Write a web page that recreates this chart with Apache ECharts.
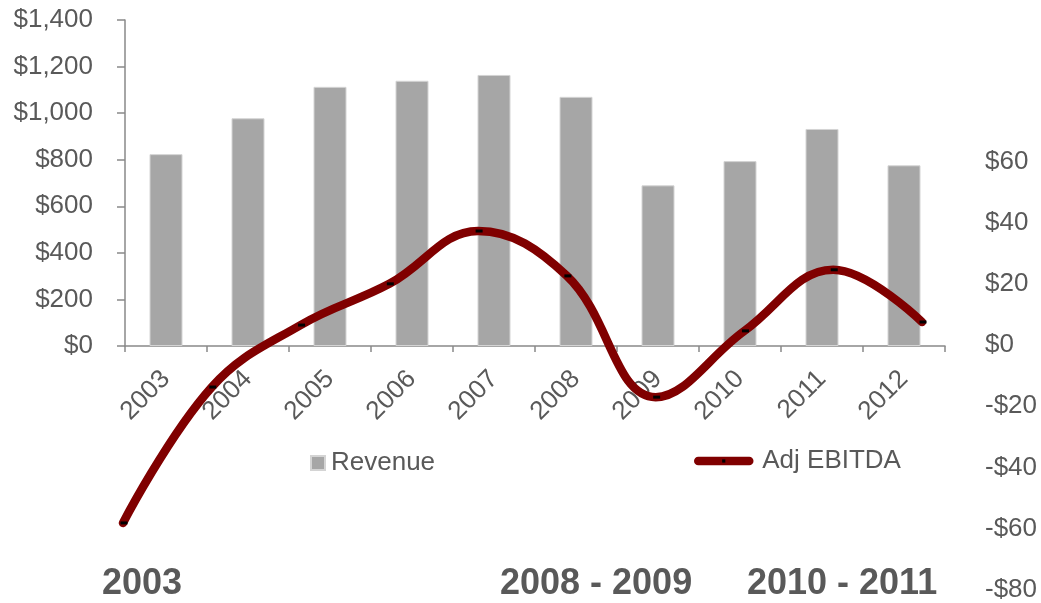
<!DOCTYPE html>
<html>
<head>
<meta charset="utf-8">
<script src="https://cdn.jsdelivr.net/npm/echarts@6/dist/echarts.min.js"></script>
<style>
  html, body { margin: 0; padding: 0; background: #ffffff; }
  #chart { width: 1041px; height: 603px; }
</style>
</head>
<body>
<div id="chart"></div>
<script>
// Fiscal years on the horizontal axis
const years = ['2003', '2004', '2005', '2006', '2007', '2008', '2009', '2010', '2011', '2012'];
// Revenue ($M), left axis
const revenue = [824, 978, 1113, 1139, 1164, 1070, 690, 794, 932, 776];
// Adjusted EBITDA ($M), right axis
const adjEbitda = [-58.2, -13.7, 6.6, 20.1, 37.4, 22.7, -17.0, 4.7, 24.7, 7.6];
// Period headings under the chart
const periodLabels = ['2003', '2008 - 2009', '2010 - 2011'];
const periodLeft = [102, 500, 747];

const FONT = '"Liberation Sans", Arial, sans-serif';
const TEXT = '#595959';
const AXIS = '#898989';
const LABEL_SIZE = 26;

function money(v) {
  const s = Math.abs(v).toLocaleString('en-US');
  return (v < 0 ? '-$' : '$') + s;
}

const chart = echarts.init(document.getElementById('chart'), null, { renderer: 'canvas' });

chart.setOption({
  animation: false,
  backgroundColor: '#ffffff',
  textStyle: { fontFamily: FONT },
  grid: [
    { left: 125, right: 96, top: 20, bottom: 257, containLabel: false },
    { left: 123, right: 119, top: 162, bottom: 13.5, containLabel: false }
  ],
  legend: [
    {
      data: ['Revenue'],
      left: 310, top: 450,
      padding: 0,
      itemWidth: 14, itemHeight: 14,
      icon: 'rect',
      selectedMode: false,
      textStyle: { color: TEXT, fontSize: LABEL_SIZE, fontFamily: FONT, padding: [0, 0, 0, 1] }
    },
    {
      data: ['Adj EBITDA'],
      left: 694, top: 448,
      padding: 0,
      itemWidth: 51, itemHeight: 4,
      selectedMode: false,
      lineStyle: { width: 8.5, cap: 'round', color: '#800000' },
      textStyle: { color: TEXT, fontSize: LABEL_SIZE, fontFamily: FONT, padding: [0, 0, 0, 8] }
    }
  ],
  xAxis: [
    {
      type: 'category',
      gridIndex: 0,
      data: years,
      boundaryGap: true,
      axisLine: { lineStyle: { color: AXIS, width: 1.5 } },
      axisTick: { show: true, length: 6, lineStyle: { color: AXIS, width: 1.5 } },
      axisLabel: {
        rotate: 45, margin: 29,
        color: TEXT, fontSize: LABEL_SIZE, fontFamily: FONT
      }
    },
    {
      type: 'category',
      gridIndex: 1,
      data: years,
      boundaryGap: false,
      show: false
    }
  ],
  yAxis: [
    {
      type: 'value',
      gridIndex: 0,
      min: 0, max: 1400, interval: 200,
      axisLine: { show: true, lineStyle: { color: AXIS, width: 1.5 } },
      axisTick: { show: true, length: 8, lineStyle: { color: AXIS, width: 1.5 } },
      splitLine: { show: false },
      axisLabel: {
        margin: 32, color: TEXT, fontSize: LABEL_SIZE, fontFamily: FONT,
        formatter: money
      }
    },
    {
      type: 'value',
      gridIndex: 1,
      position: 'right',
      min: -80, max: 60, interval: 20,
      axisLine: { show: false },
      axisTick: { show: false },
      splitLine: { show: false },
      axisLabel: {
        margin: 63, align: 'left', color: TEXT, fontSize: LABEL_SIZE, fontFamily: FONT,
        formatter: money
      }
    }
  ],
  series: [
    {
      name: 'Revenue',
      type: 'bar',
      xAxisIndex: 0, yAxisIndex: 0,
      data: revenue,
      barWidth: 33,
      itemStyle: { color: '#a6a6a6', borderColor: '#d4d4d4', borderWidth: 1 },
      z: 2
    },
    {
      name: 'Adj EBITDA',
      type: 'line',
      xAxisIndex: 1, yAxisIndex: 1,
      data: adjEbitda,
      smooth: 0.4,
      symbol: 'rect',
      symbolSize: [7, 3],
      symbolOffset: [1, 0],
      showAllSymbol: true,
      itemStyle: { color: '#000000' },
      lineStyle: { color: '#800000', width: 8.5, cap: 'round', join: 'round' },
      z: 5
    }
  ],
  graphic: periodLabels.map((t, i) => ({
    type: 'text',
    left: periodLeft[i],
    top: 566,
    style: {
      text: t,
      fill: TEXT,
      font: 'bold 36px ' + FONT
    }
  }))
});
</script>
</body>
</html>
